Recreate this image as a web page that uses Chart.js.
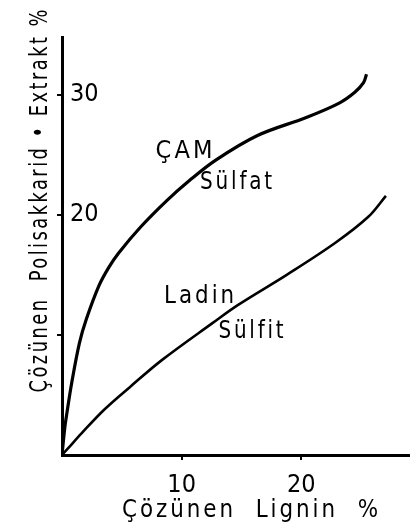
<!DOCTYPE html>
<html>
<head>
<meta charset="utf-8">
<script src="https://cdn.jsdelivr.net/npm/chart.js@4/dist/chart.umd.min.js"></script>
<style>
  html, body { margin: 0; padding: 0; background: #fff; }
  #wrap { width: 419px; height: 528px; position: relative; }
</style>
</head>
<body>
<div id="wrap"><canvas id="c" width="419" height="528"></canvas></div>
<script>
// ---- data ----
const camX   = [0, 0.24, 0.41, 0.81, 1.46, 2.03, 3.09, 3.9, 4.72, 6.59, 8.78, 10.65, 12.85, 16.34, 20.41, 23.17, 24.47, 25.2, 25.45];
const camY   = [0, 2.33, 3.5, 6.0, 9.33, 11.3, 14.1, 15.6, 16.8, 19.0, 21.2, 22.85, 24.55, 26.6, 28.1, 29.3, 30.2, 31.0, 31.7];
const ladinX = [0, 0.5, 1.63, 3.5, 5.69, 8.37, 12.6, 14.72, 18.78, 22.85, 25.6, 27.07];
const ladinY = [0, 0.55, 1.8, 3.75, 5.67, 7.92, 11.0, 12.5, 15.0, 17.67, 19.83, 21.58];
const xTickLabels = [10, 20];
const yTickLabels = [20, 30];
const tickMarks = [10, 20, 30];
const xTitle = 'Çözünen  Lignin  %';
const yTitle = 'Çözünen  Polisakkarid • Extrakt %';
const curveLabels = ['ÇAM', 'Sülfat', 'Ladin', 'Sülfit'];
const curveLabelX = [10.2, 14.55, 11.46, 15.8];
const curveLabelY = [25.25, 22.7, 13.2, 10.25];
const curveLabelW = [57, 72, 70, 65];

const FONT = '"DejaVu Sans Condensed", "DejaVu Sans", sans-serif';

const pts = (xs, ys) => xs.map((x, i) => ({ x: x, y: ys[i] }));

function fitText(ctx, text, cx, cy, width, px, spacing, rot) {
  ctx.save();
  ctx.font = px + 'px ' + FONT;
  ctx.letterSpacing = spacing + 'px';
  ctx.textAlign = 'center';
  ctx.textBaseline = 'middle';
  const w = ctx.measureText(text).width - spacing;
  ctx.translate(cx, cy);
  if (rot) ctx.rotate(rot);
  ctx.scale(width / w, 1);
  ctx.fillText(text, spacing / 2, 0);
  ctx.restore();
}

const textPlugin = {
  id: 'texts',
  afterDraw(chart) {
    const ctx = chart.ctx;
    const xs = chart.scales.x, ys = chart.scales.y;
    ctx.fillStyle = '#000';
    curveLabels.forEach((t, i) => {
      fitText(ctx, t, xs.getPixelForValue(curveLabelX[i]), ys.getPixelForValue(curveLabelY[i]), curveLabelW[i], 24, 3, 0);
    });
    fitText(ctx, xTitle, 250, 511, 256, 24, 3, 0);
    fitText(ctx, yTitle, 41, 201, 383, 24, 3, -Math.PI / 2);
  }
};

const tickColor = (c) => tickMarks.includes(c.tick && c.tick.value) ? '#000' : 'rgba(0,0,0,0)';

new Chart(document.getElementById('c'), {
  type: 'line',
  data: {
    datasets: [
      { label: 'ÇAM Sülfat', data: pts(camX, camY), borderColor: '#000', borderWidth: 3.2, pointRadius: 0, tension: 0.35, fill: false },
      { label: 'Ladin Sülfit', data: pts(ladinX, ladinY), borderColor: '#000', borderWidth: 2.6, pointRadius: 0, tension: 0.35, fill: false }
    ]
  },
  options: {
    responsive: false,
    animation: false,
    layout: { padding: { top: 37, right: 0, left: 0, bottom: 0 } },
    plugins: { legend: { display: false }, tooltip: { enabled: false }, title: { display: false } },
    scales: {
      x: {
        type: 'linear', min: 0, max: 29,
        afterFit(a) { a.height = 73; },
        border: { display: true, color: '#000', width: 3 },
        grid: { drawOnChartArea: false, drawTicks: true, tickLength: 5, color: tickColor, lineWidth: 2 },
        ticks: {
          stepSize: 10, color: '#000', padding: 10, maxRotation: 0,
          font: { family: FONT, size: 25 },
          callback: (v) => xTickLabels.includes(v) ? String(v) : ''
        }
      },
      y: {
        type: 'linear', min: 0, max: 34.8,
        afterFit(a) { a.width = 62; },
        border: { display: true, color: '#000', width: 3 },
        grid: { drawOnChartArea: false, drawTicks: true, tickLength: 5, color: tickColor, lineWidth: 2 },
        ticks: {
          stepSize: 10, color: '#000', mirror: true, padding: 8,
          font: { family: FONT, size: 25 },
          callback: (v) => yTickLabels.includes(v) ? String(v) : ''
        }
      }
    }
  },
  plugins: [textPlugin]
});
</script>
</body>
</html>
